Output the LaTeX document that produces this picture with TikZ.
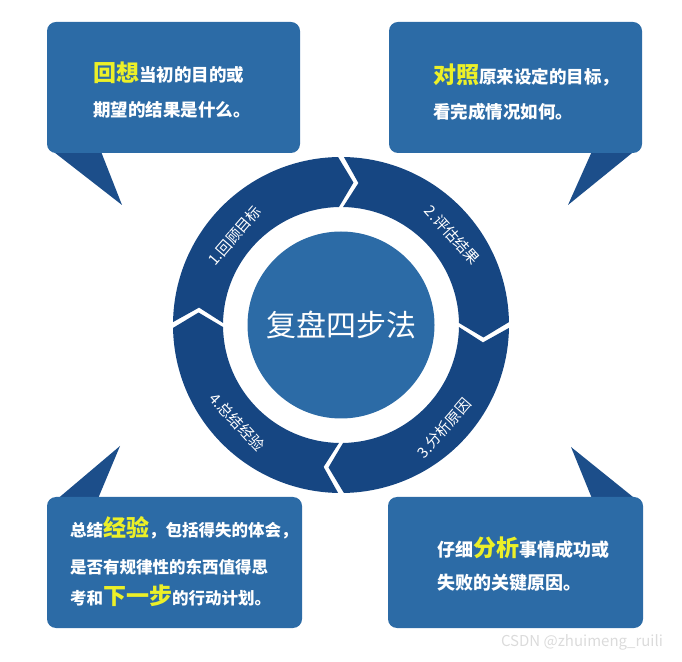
\documentclass[tikz,border=0pt]{standalone}
\usepackage{fontspec}
\newfontfamily\cjk{Noto Sans CJK SC}

\definecolor{boxblue}{RGB}{44,107,166}
\definecolor{ringblue}{RGB}{22,70,130}
\definecolor{tailblue}{RGB}{28,78,138}
\definecolor{hilite}{RGB}{236,240,40}

\tikzset{
  callout/.style={fill=boxblue, rounded corners=9pt},
  tail/.style={fill=tailblue},
  segment/.style={fill=ringblue},
  boxtext/.style={anchor=base west, inner sep=0pt, text=white,
    font=\cjk\bfseries\fontsize{#1}{#1}\selectfont},
  boxtext/.default=17.5,
  ringtext/.style={text=white, inner sep=0pt, font=\cjk\fontsize{15}{15}\selectfont},
}
\newcommand{\hiword}[1]{{\fontsize{23}{23}\selectfont\color{hilite}#1}}

\begin{document}
\begin{tikzpicture}[x=1pt, y=1pt]
    \useasboundingbox (0,0) rectangle (682,661);

    % --- Coordinates ---
    \coordinate (c) at (341,336); % centre of the ring
    \def\ro{168}
    \def\rm{143}
    \def\ri{118}

    % --- Callout tails ---
    \fill[tail] (50,512) -- (100,512) -- (122,456) -- cycle;
    \fill[tail] (593,512) -- (637,512) -- (568,456) -- cycle;
    \fill[tail] (55,160) -- (97,160) -- (120,215) -- cycle;
    \fill[tail] (593,160) -- (638,160) -- (571,214) -- cycle;

    % --- Callout boxes ---
    \fill[callout] (47,508) rectangle (300,639);
    \fill[callout] (389,508) rectangle (642,639);
    \fill[callout] (47,33) rectangle (302,164);
    \fill[callout] (388,33) rectangle (643,164);

    % Box texts
    \node[boxtext] (b1a) at (93,579.5) {\hiword{回想}当初的目的或};
    \node[boxtext] (b1b) at (93,544.5) {期望的结果是什么。};
    \node[boxtext] (b2a) at (433,577.5) {\hiword{对照}原来设定的目标，};
    \node[boxtext] (b2b) at (433,542.5) {看完成情况如何。};
    \node[boxtext=16.5] (b3a) at (70,124.5) {总结\hiword{经验}，包括得失的体会，};
    \node[boxtext=16.5] (b3b) at (70,87.5) {是否有规律性的东西值得思};
    \node[boxtext=16.5] (b3c) at (70,56.5) {考和\hiword{下一步}的行动计划。};
    \node[boxtext=18] (b4a) at (437,104.5) {仔细\hiword{分析}事情成功或};
    \node[boxtext=18] (b4b) at (437,71.5) {失败的关键原因。};

    % --- Ring of four steps (clockwise) ---
    \begin{scope}[shift={(c)}]
    \foreach \q/\lab/\ang/\rad/\rot [count=\i] in
        {180/{1.回顾目标}/140/139/49, 90/{2.评估结果}/39/143/-48,
         0/{3.分析原因}/-45/146/49, -90/{4.总结经验}/-137/142/-47}
    {
        \pgfmathsetmacro\sa{\q-1}   % trailing corners
        \pgfmathsetmacro\sn{\q-7}   % trailing notch
        \pgfmathsetmacro\ea{\q-89}  % leading corners
        \pgfmathsetmacro\et{\q-95}  % leading tip
        \fill[segment] (\sa:\ro) arc[start angle=\sa, end angle=\ea, radius=\ro]
            -- (\et:\rm) -- (\ea:\ri)
            arc[start angle=\ea, end angle=\sa, radius=\ri]
            -- (\sn:\rm) -- cycle;
        \node[ringtext, rotate=\rot] (step\i) at (\ang:\rad) {\lab};
    }
    \end{scope}

    % --- Centre ---
    \node[circle, fill=boxblue, minimum size=187pt, inner sep=0pt, text=white,
          font=\cjk\fontsize{30}{30}\selectfont] (core) at (c) {复盘四步法};

    % Watermark
    \node[text=black!14, font=\cjk\fontsize{15}{15}\selectfont] (mark) at (582,19) {CSDN @zhuimeng\_ruili};

\end{tikzpicture}
\end{document}
